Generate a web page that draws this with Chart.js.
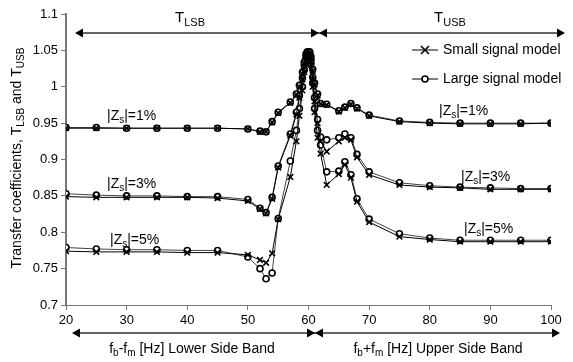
<!DOCTYPE html>
<html>
<head>
<meta charset="utf-8">
<script src="https://cdn.jsdelivr.net/npm/chart.js@4"></script>
<style>
  html, body { margin: 0; padding: 0; background: #fff; }
  #wrap { width: 573px; height: 362px; }
</style>
</head>
<body>
<div id="wrap"><canvas id="chart" width="573" height="362"></canvas></div>
<script>
// modulation frequencies (Hz) shared by all six curves
const freqs = [20, 25, 30, 35, 40, 45, 50, 52, 53, 54, 55, 57, 58, 58.5, 59, 59.3, 59.6, 59.8, 60,
    60.2, 60.4, 60.7, 61, 61.5, 62, 63, 65, 66, 67, 68, 70, 75, 80, 85, 90, 95, 100];

// |Zs| = 1%
const small1 = [0.943, 0.943, 0.943, 0.943, 0.943, 0.943, 0.942, 0.938, 0.938, 0.951, 0.964, 0.978, 0.989, 1.0, 1.018,
    1.032, 1.044, 1.047, 1.042, 1.047, 1.04, 1.022, 1.003, 0.988, 0.976, 0.975, 0.966, 0.971, 0.976, 0.970, 0.960,
    0.952, 0.950, 0.949, 0.949, 0.949, 0.950];
const large1 = [0.944, 0.944, 0.943, 0.943, 0.943, 0.943, 0.942, 0.939, 0.938, 0.952, 0.965, 0.979, 0.990, 1.002, 1.02,
    1.034, 1.045, 1.048, 1.043, 1.048, 1.041, 1.024, 1.005, 0.99, 0.977, 0.976, 0.967, 0.972, 0.977, 0.971, 0.961,
    0.953, 0.951, 0.950, 0.950, 0.950, 0.950];

// |Zs| = 3%
const small3 = [0.849, 0.848, 0.848, 0.848, 0.848, 0.847, 0.843, 0.832, 0.826, 0.846, 0.889, 0.933, 0.962, 0.985, 1.01,
    1.028, 1.04, 1.045, 1.04, 1.045, 1.035, 1.01, 0.98, 0.95, 0.925, 0.911, 0.925, 0.93, 0.927, 0.903, 0.879,
    0.865, 0.862, 0.861, 0.859, 0.859, 0.859];
const large3 = [0.853, 0.851, 0.850, 0.850, 0.849, 0.849, 0.845, 0.833, 0.827, 0.848, 0.891, 0.935, 0.965, 0.988, 1.012,
    1.03, 1.042, 1.046, 1.041, 1.046, 1.037, 1.013, 0.985, 0.955, 0.931, 0.927, 0.93, 0.935, 0.93, 0.907, 0.883,
    0.868, 0.864, 0.862, 0.861, 0.860, 0.860];

// |Zs| = 5%
const small5 = [0.774, 0.773, 0.773, 0.773, 0.772, 0.772, 0.769, 0.762, 0.758, 0.771, 0.818, 0.876, 0.925, 0.96, 0.995,
    1.02, 1.037, 1.045, 1.04, 1.043, 1.03, 1.0, 0.965, 0.93, 0.908, 0.865, 0.88, 0.893, 0.875, 0.842, 0.814,
    0.794, 0.790, 0.787, 0.787, 0.787, 0.787];
const large5 = [0.779, 0.777, 0.776, 0.776, 0.775, 0.775, 0.766, 0.750, 0.736, 0.744, 0.819, 0.898, 0.94, 0.97, 1.0,
    1.023, 1.038, 1.045, 1.041, 1.044, 1.032, 1.005, 0.97, 0.94, 0.92, 0.883, 0.884, 0.897, 0.879, 0.846, 0.818,
    0.798, 0.792, 0.789, 0.789, 0.789, 0.789];

const xTicks = [20, 30, 40, 50, 60, 70, 80, 90, 100];
const yTicks = [0.7, 0.75, 0.8, 0.85, 0.9, 0.95, 1, 1.05, 1.1];

const FONT = '"Liberation Sans", Arial, sans-serif';

function pts(values) {
    return values.map((v, i) => ({ x: freqs[i], y: v }));
}

function smallSet(values) {
    return {
        data: pts(values),
        borderColor: '#000',
        borderWidth: 1,
        pointStyle: 'crossRot',
        pointRadius: 4,
        pointBorderWidth: 1.6,
        pointBorderColor: '#000',
        tension: 0,
        order: 0
    };
}

function largeSet(values) {
    return {
        data: pts(values),
        borderColor: '#444',
        borderWidth: 1,
        pointStyle: 'circle',
        pointRadius: 3,
        pointBorderWidth: 1.6,
        pointBorderColor: '#000',
        pointBackgroundColor: '#fff',
        tension: 0,
        order: 1
    };
}

// text with subscripts: parts = [[text, isSub], ...]
function subText(ctx, parts, x, y, size, align) {
    const sub = Math.round(size * 0.7);
    let total = 0;
    parts.forEach(([t, s]) => {
        ctx.font = (s ? sub : size) + 'px ' + FONT;
        total += ctx.measureText(t).width;
    });
    let cx = align === 'center' ? x - total / 2 : (align === 'right' ? x - total : x);
    ctx.textAlign = 'left';
    ctx.textBaseline = 'middle';
    parts.forEach(([t, s]) => {
        ctx.font = (s ? sub : size) + 'px ' + FONT;
        ctx.fillText(t, cx, s ? y + size * 0.3 : y);
        cx += ctx.measureText(t).width;
    });
}

function head(ctx, tipX, y, dir) {
    // dir -1 points left, +1 points right
    ctx.beginPath();
    ctx.moveTo(tipX, y);
    ctx.lineTo(tipX - dir * 8, y - 4.5);
    ctx.lineTo(tipX - dir * 8, y + 4.5);
    ctx.closePath();
    ctx.fill();
}

function doubleArrow(ctx, left, mid, right, y) {
    ctx.strokeStyle = '#333';
    ctx.lineWidth = 1.5;
    ctx.beginPath();
    ctx.moveTo(left + 4, y);
    ctx.lineTo(right - 4, y);
    ctx.stroke();
    ctx.fillStyle = '#000';
    head(ctx, left, y, -1);
    head(ctx, mid, y, 1);
    head(ctx, mid, y, -1);
    head(ctx, right, y, 1);
}

const decorations = {
    id: 'decorations',
    afterDraw(chart) {
        const ctx = chart.ctx;
        ctx.save();
        ctx.fillStyle = '#000';

        doubleArrow(ctx, 75, 319, 565, 33);
        doubleArrow(ctx, 72, 315, 560, 333);

        subText(ctx, [['T', false], ['LSB', true]], 190, 18, 15, 'center');
        subText(ctx, [['T', false], ['USB', true]], 450, 18, 15, 'center');

        ctx.fillStyle = '#000';
        subText(ctx, [['f', false], ['b', true], ['-f', false], ['m', true], [' [Hz] Lower Side Band', false]], 192, 349, 14, 'center');
        subText(ctx, [['f', false], ['b', true], ['+f', false], ['m', true], [' [Hz] Upper Side Band', false]], 438, 349, 14, 'center');

        // legend
        ctx.strokeStyle = '#000';
        ctx.lineWidth = 1.2;
        ctx.beginPath();
        ctx.moveTo(412, 50); ctx.lineTo(438, 50);
        ctx.moveTo(412, 79); ctx.lineTo(438, 79);
        ctx.stroke();
        ctx.lineWidth = 1.6;
        ctx.beginPath();
        ctx.moveTo(421, 46); ctx.lineTo(429, 54);
        ctx.moveTo(429, 46); ctx.lineTo(421, 54);
        ctx.stroke();
        ctx.beginPath();
        ctx.arc(425, 79, 3, 0, Math.PI * 2);
        ctx.fillStyle = '#fff';
        ctx.fill();
        ctx.stroke();
        ctx.fillStyle = '#000';
        subText(ctx, [['Small signal model', false]], 443, 50, 14, 'left');
        subText(ctx, [['Large signal model', false]], 443, 79, 14, 'left');

        // |Zs| labels
        const zs = (pct, x, y) => subText(ctx, [['|Z', false], ['s', true], ['|=' + pct, false]], x, y, 14, 'left');
        zs('1%', 107, 116);
        zs('3%', 107, 184);
        zs('5%', 110, 240);
        zs('1%', 439, 111);
        zs('3%', 461, 177);
        zs('5%', 464, 229);

        // y axis title
        ctx.translate(17, 158);
        ctx.rotate(-Math.PI / 2);
        subText(ctx, [['Transfer coefficients, T', false], ['LSB', true], [' and T', false], ['USB', true]], 0, 0, 14, 'center');
        ctx.restore();
    }
};

const ctx = document.getElementById('chart').getContext('2d');
new Chart(ctx, {
    type: 'line',
    data: {
        datasets: [
            smallSet(small1), largeSet(large1),
            smallSet(small3), largeSet(large3),
            smallSet(small5), largeSet(large5)
        ]
    },
    options: {
        responsive: false,
        animation: false,
        layout: { padding: { top: 14, right: 22, left: 0, bottom: 0 } },
        plugins: {
            legend: { display: false },
            tooltip: { enabled: false }
        },
        scales: {
            x: {
                type: 'linear',
                min: 20,
                max: 100,
                afterBuildTicks: scale => { scale.ticks = xTicks.map(v => ({ value: v })); },
                ticks: { color: '#000', font: { family: FONT, size: 13 }, padding: 3, maxRotation: 0 },
                grid: { drawOnChartArea: false, color: '#777', tickLength: 5 },
                border: { color: '#777', width: 1 },
                afterFit: scale => { scale.height = 57; }
            },
            y: {
                min: 0.7,
                max: 1.1,
                afterBuildTicks: scale => { scale.ticks = yTicks.map(v => ({ value: v })); },
                ticks: {
                    color: '#000',
                    font: { family: FONT, size: 13 },
                    padding: 3,
                    callback: v => String(+Number(v).toFixed(2))
                },
                grid: { drawOnChartArea: false, color: '#777', tickLength: 5 },
                border: { color: '#777', width: 2 },
                afterFit: scale => { scale.width = 66; }
            }
        }
    },
    plugins: [decorations]
});
</script>
</body>
</html>
